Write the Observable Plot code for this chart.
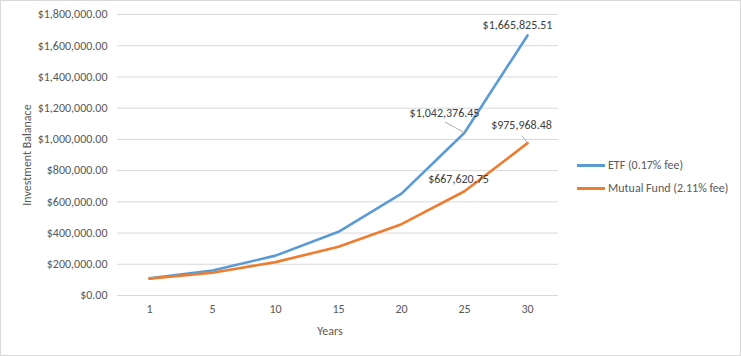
<!DOCTYPE html>
<html><head><meta charset="utf-8">
<script src="https://cdn.jsdelivr.net/npm/d3@7"></script>
<script src="https://cdn.jsdelivr.net/npm/@observablehq/plot@0.6"></script>
<style>
body{margin:0;background:#fff;}
#wrap{position:relative;width:741px;height:356px;font-family:Carlito,Lato,"Open Sans",sans-serif;color:#595959;}
#frame{position:absolute;left:0;top:0;width:739px;height:354px;border:1px solid #d9d9d9;pointer-events:none;}
.t{position:absolute;white-space:nowrap;font-size:12px;}
.ytitle{left:27px;top:155px;transform:translate(-50%,-50%) rotate(-90deg);}
.xtitle{left:330px;top:331px;transform:translate(-50%,-50%);}
.leg{position:absolute;left:577px;font-size:12px;display:flex;align-items:center;}
.leg span.sw{display:inline-block;width:28px;height:3px;margin-right:3px;}
</style></head>
<body>
<div id="wrap"></div>
<script>
const years = ["1","5","10","15","20","25","30"];
const etfValues = [109830, 159820, 255410, 408200, 652370, 1042376.45, 1665825.51];
const mutualValues = [107890, 146190, 213710, 312410, 456680, 667620.75, 975968.48];
const seriesNames = ["ETF (0.17% fee)", "Mutual Fund (2.11% fee)"];
const seriesColors = ["#5B9BD5", "#ED7D31"];
const yTicks = [0,200000,400000,600000,800000,1000000,1200000,1400000,1600000,1800000];

const rows = [];
years.forEach((y, i) => rows.push({year: y, value: etfValues[i], series: seriesNames[0]}));
years.forEach((y, i) => rows.push({year: y, value: mutualValues[i], series: seriesNames[1]}));
const fmt = d3.format("$,.2f");
const pick = (s, yr) => rows.filter(d => d.series === s && d.year === yr);

const leader = {draw(ctx, l) { ctx.moveTo(0, 0); ctx.lineTo(0, -l); }};

const chart = Plot.plot({
  width: 741, height: 356,
  marginLeft: 117, marginRight: 183, marginTop: 14, marginBottom: 61,
  style: {fontFamily: "Carlito, Lato, 'Open Sans', sans-serif", fontSize: "12px", color: "#595959", background: "transparent"},
  x: {type: "point", domain: years, padding: 0.5, label: null},
  y: {domain: [0, 1800000], label: null},
  color: {domain: seriesNames, range: seriesColors},
  marks: [
    Plot.gridY(yTicks, {stroke: "#d9d9d9", strokeOpacity: 1}),
    Plot.axisY(yTicks, {tickSize: 0, tickPadding: 10, tickFormat: fmt, fill: "#595959", fontSize: 12}),
    Plot.axisX(years, {tickSize: 0, tickPadding: 9, fill: "#595959", fontSize: 12}),
    Plot.line(rows, {x: "year", y: "value", z: "series", stroke: "series", strokeWidth: 2.6, strokeLinejoin: "round", strokeLinecap: "round"}),
    Plot.vector(pick(seriesNames[0], "25"), {x: "year", y: "value", length: 22, rotate: -61, stroke: "#a6a6a6", strokeWidth: 0.8, anchor: "start", shape: leader}),
    Plot.vector(pick(seriesNames[1], "30"), {x: "year", y: "value", length: 9, rotate: -37, stroke: "#a6a6a6", strokeWidth: 0.8, anchor: "start", shape: leader}),
    Plot.text(pick(seriesNames[0], "30"), {x: "year", y: "value", text: d => fmt(d.value), dx: -10, dy: -10, fill: "#404040", fontSize: 12}),
    Plot.text(pick(seriesNames[0], "25"), {x: "year", y: "value", text: d => fmt(d.value), dx: -20, dy: -20, fill: "#404040", fontSize: 12}),
    Plot.text(pick(seriesNames[1], "30"), {x: "year", y: "value", text: d => fmt(d.value), dx: -6, dy: -18, fill: "#404040", fontSize: 12}),
    Plot.text(pick(seriesNames[1], "25"), {x: "year", y: "value", text: d => fmt(d.value), dx: -6, dy: -12, fill: "#404040", fontSize: 12})
  ]
});

const wrap = document.getElementById("wrap");
wrap.appendChild(chart);
chart.style.position = "absolute"; chart.style.left = "0"; chart.style.top = "0";

const addDiv = (cls, text, css) => { const d = document.createElement("div"); d.className = cls; d.textContent = text; if (css) Object.assign(d.style, css); wrap.appendChild(d); return d; };
addDiv("t ytitle", "Investment Balanace");
addDiv("t xtitle", "Years");
seriesNames.forEach((name, i) => {
  const d = document.createElement("div");
  d.className = "leg";
  d.style.top = (157 + i * 23) + "px";
  d.style.height = "16px";
  const sw = document.createElement("span"); sw.className = "sw"; sw.style.background = seriesColors[i];
  const tx = document.createElement("span"); tx.textContent = name;
  d.appendChild(sw); d.appendChild(tx);
  wrap.appendChild(d);
});
const fr = document.createElement("div"); fr.id = "frame"; wrap.appendChild(fr);
</script>
</body></html>
